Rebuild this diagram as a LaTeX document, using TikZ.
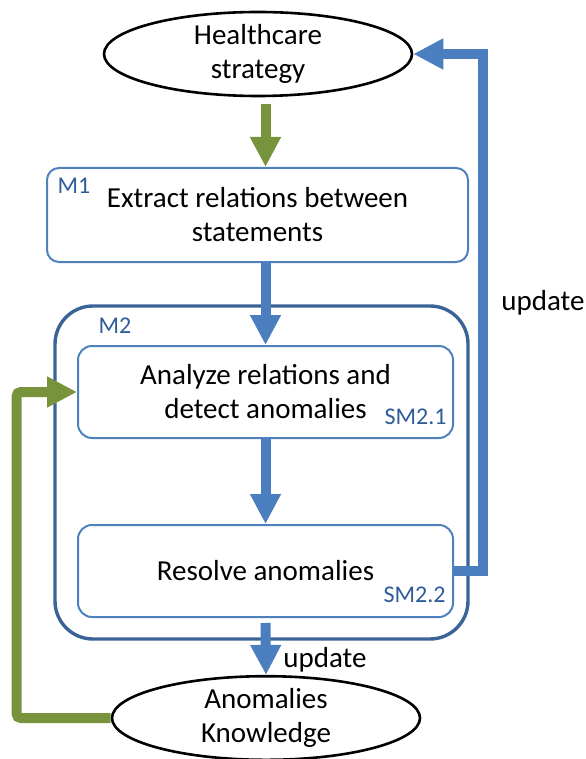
\documentclass[tikz,border=0pt]{standalone}
\usepackage{fontspec}
\setmainfont{Carlito}
\usetikzlibrary{arrows.meta,positioning,shapes.geometric}
\definecolor{flowblue}{HTML}{4A7EBF}
\definecolor{boxblue}{HTML}{4F81BD}
\definecolor{groupblue}{HTML}{3A6496}
\definecolor{tagblue}{HTML}{2E5C99}
\definecolor{feedgreen}{HTML}{77933C}
\newcommand{\mainfs}{\fontsize{14.5}{17}\selectfont}
\newcommand{\tagfs}{\fontsize{12}{14}\selectfont}
\tikzset{
  store/.style={ellipse, draw=black, line width=1.3pt, minimum width=154pt,
                minimum height=42pt, inner sep=0pt, align=center, font=\mainfs},
  module/.style={draw=boxblue, line width=1pt, rounded corners=6pt,
                 align=center, font=\mainfs},
  group/.style={draw=groupblue, line width=1.7pt, rounded corners=19pt},
  tag/.style={text=tagblue, font=\tagfs, inner sep=0pt},
  flow/.style={line width=5pt, draw=flowblue, -{Triangle[length=15pt,width=14.5pt]}},
  feed/.style={line width=5pt, draw=feedgreen, -{Triangle[length=15pt,width=14.5pt]}},
}
\begin{document}
\begin{tikzpicture}[x=0.5pt, y=-0.5pt]
\useasboundingbox (0,0) rectangle (585,759);
\node[store] (hs) at (258,54) {Healthcare\\strategy};
\node[module, minimum width=210.5pt, minimum height=47pt] (m1) at (257.5,215)
  {Extract relations between\\statements};
\node[group, minimum width=206.5pt, minimum height=166.5pt] (m2) at (261.5,472.5) {};
\node[module, rounded corners=7pt, minimum width=187.5pt, minimum height=46pt] (sm21) at (265.5,392)
  {Analyze relations and\\detect anomalies};
\node[module, rounded corners=7pt, minimum width=187.5pt, minimum height=46pt, below=42.5pt of sm21] (sm22)
  {Resolve anomalies};
\node[store, minimum height=39pt] (ak) at (266,718) {Anomalies\\Knowledge};
% module tags
\node[tag] (t1) at (74,186) {M1};
\node[tag] (t2) at (115,326) {M2};
\node[tag, anchor=east] (t21) at (447,417) {SM2.1};
\node[tag, anchor=east] (t22) at (446,595) {SM2.2};
% main flow
\draw[feed, shorten <=3.5pt] (sm21.north |- hs.south) -- (sm21.north |- m1.north);
\draw[flow] (sm21.north |- m1.south) -- (sm21.north);
\draw[flow] (sm21) -- (sm22);
\draw[flow, shorten <=2.5pt] (sm22.south) -- (ak.north);
\node[anchor=west, font=\mainfs, inner sep=0pt] (u2) at (283,660) {update};
% feedback loops
\draw[feed, rounded corners=2pt] (ak.west) -- ++(-94,0) |- (sm21.west);
\draw[flow] (sm22.east) -- ++(29,0) |- (hs.east);
\node[font=\mainfs] (u1) at (543,303) {update};
\end{tikzpicture}
\end{document}
